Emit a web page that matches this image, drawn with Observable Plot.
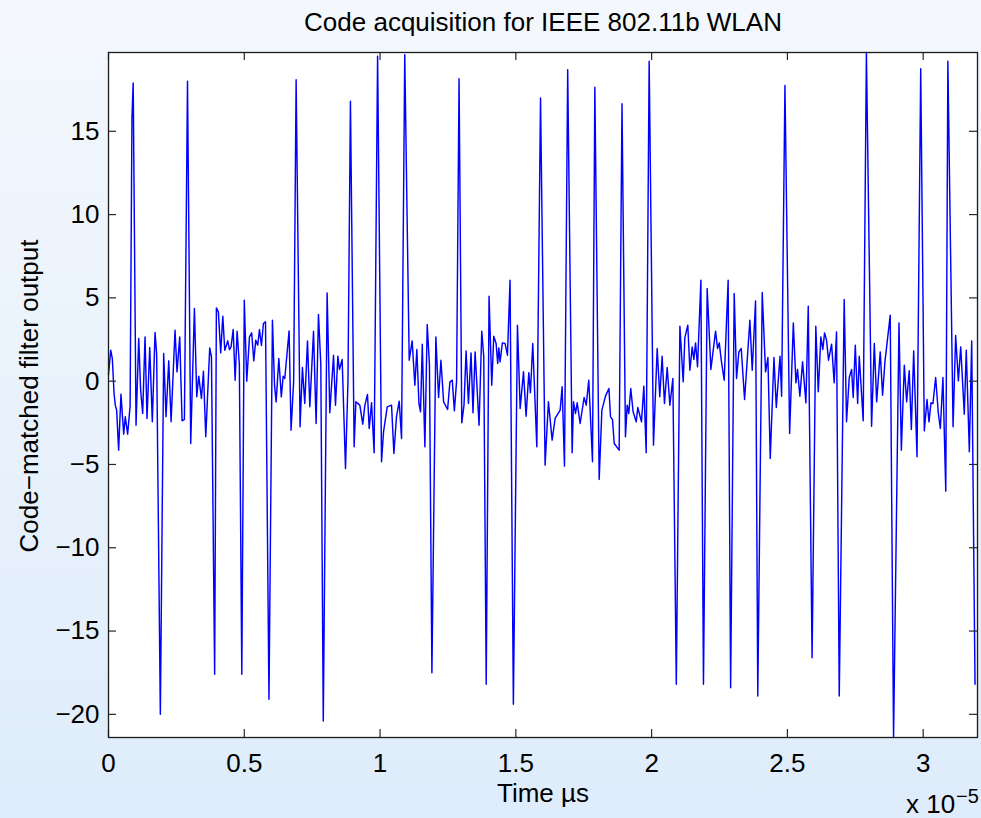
<!DOCTYPE html>
<html><head><meta charset="utf-8">
<script src="https://cdn.jsdelivr.net/npm/d3@7"></script>
<script src="https://cdn.jsdelivr.net/npm/@observablehq/plot@0.6"></script>
<style>
html,body{margin:0;padding:0;}
body{width:981px;height:818px;overflow:hidden;background:linear-gradient(to bottom,#f4f8fd 0%,#deecfb 100%);font-family:"Liberation Sans",Arial,Helvetica,sans-serif;}
#wrap{position:relative;width:981px;height:818px;}
#chart{position:absolute;left:0;top:0;}
.t{position:absolute;color:#000;white-space:nowrap;line-height:1;}
</style></head><body><div id="wrap">
<div id="chart"></div>
<div class="t" id="title" style="left:543px;top:9px;font-size:26px;transform:translateX(-50%);">Code acquisition for IEEE 802.11b WLAN</div>
<div class="t" id="xlab" style="left:543px;top:780px;font-size:26px;transform:translateX(-50%);">Time µs</div>
<div class="t" id="ylab" style="left:29px;top:396px;font-size:26px;transform:translate(-50%,-50%) rotate(-90deg);">Code−matched filter output</div>
<div class="t" id="expo" style="left:906px;top:791px;font-size:26px;">x 10</div>
<div class="t" id="expo2" style="left:956px;top:786px;font-size:20px;">−5</div>
</div>
<script>
// sampling: 22 samples per microsecond (2 per chip), index
const SAMPLES_PER_US = 22;
const halfChipIndex = [
0,1.8,3.1,4.5,5.5,6.6,8.2,10.1,12.3,13.6,15.5,17.5,19,20,22.3,24.5,26,27.7,29.6,31.2,33.4,35.5,37.7,39,42,44.7,46.6,48.8,50.7,53.9,55.5,57.7,59.6,61.5,64,66.6,69.6,71.5,73.1,75.3,76.9,78.8,82,83.4,86,87.4,89,90.9,92.6,94.2,96.6,98,99.3,101,102.6,104.2,106,108,110,112,114.2,116,117.7,119.3,120.9,122.3,123.9,125.5,127.2,130,132.8,134.5,135.8,138,140,
141.5,142.8,146.3,147.9,150,152,155.2,157.1,159,161.2,163.1,166.1,168.2,170.1,172,174,177.1,179.3,182.3,183.9,185.8,187.1,189.3,192,194,196,199,200.4,203.6,206,207.7,209.8,211.2,213.1,215.2,218,221.2,222.8,225.8,229.3,231.2,233.3,235.5,237.4,240,243.6,246,248.2,249.8,251.5,252.8,254.2,256.3,258.2,260,262,265.2,267.4,269.3,271.5,274.7,276.6,278.5,
280.2,282,284,286.2,288,289.7,291.6,293.7,295.3,297,300.2,302.4,304,306,308.3,310.5,312.1,314,315.3,316.2,317.2,319.1,321.3,323.2,325.3,328,331.3,333.5,336.2,338.3,340.5,341.8,343.7,347,350,353.7,356.4,359.4,361.8,365.9,367.5,369.4,372,375.6,376.7,378.3,379.7,382.1,385.3,387,389.1,392.1,394,397.5,399.7,402.6,405.4,406.7,408.3,409.7,413.7,416,
418.8,420.2,421.5,423.1,425,427.5,428.8,431.8,433.7,435.6,438,441.5,444.5,446.6,448.5,450.4,452.6,454.8,457.2,460,462.9,465.6,466.9,469.3,471,472.9,474.2,475.6,477.2,479.9,482,485,488,491.8,493.4,494.8,496.4,498.8,502,504,506.9,508.8,510.7,512.6,515.3,519.6,521.5,524.2,526,529.6,532.3,534.2,536.1,539.1,541,544,545.3,548,551.8,554.8,
556.9,558.2,560.1,562.3,565,566.9,570,573,575,577.1,578.7,580.1,581.7,583.3,585.8,587.9,589.8,592,596,597.9,600.1,602,603.3,605,606.9,608.2,611.4,614,618.2,620.4,622.3,625.2,627.1,629,633.3,636,640.4,642.3,644.7,646.6,648.7,650.4,652.3,655,658,660.9,663.1,664.7,666.3,667.9,670.1,672.3,673.9,676,678.3,680,684.2,686.3,688.5,690.4,693.3,694.9,697.4,699.3,702
];
const filterOutput = [
0.4,1.86,1.36,-0.74,-1.44,-1.74,-4.14,-0.78,-3.18,-2.14,-3.18,-1.5,15.8,17.9,-2.64,2.56,-0.5,-1.94,2.66,-2.24,2.02,-2.44,2.92,1.66,-20.0,1.66,-2.14,1.22,-2.44,3.06,0.56,2.66,-2.38,-2.3,18.0,-3.74,4.36,-0.94,0.3,-1.04,0.6,-3.34,2.0,1.46,-17.6,4.4,4.16,1.7,3.9,1.86,2.42,1.9,2.06,3.1,0.06,3.0,1.0,-17.6,4.86,0.0,2.66,2.9,1.22,2.46,2.16,3.1,2.14,3.46,3.56,-19.1,3.66,-0.24,-1.24,1.36,-0.94,
0.3,0.16,3.02,-2.94,0,18.1,-2.74,0.82,-1.34,2.42,-1.54,3.0,-2.54,4.0,1.0,-20.4,5.3,-1.9,1.56,-1.44,1.5,0.7,1.3,-5.24,0,16.8,-3.94,-1.24,-1.44,-2.58,-1.44,-0.8,-2.84,-1.3,-4.3,19.5,-4.84,-3.04,-1.54,-1.44,-4.34,-2.14,-1.2,-3.44,19.6,1.26,2.42,-0.24,1.9,-1.34,-1.84,2.22,-3.94,3.4,1.0,-17.5,2.66,-0.98,1.26,-1.24,-1.7,-0.04,0.06,
-1.78,0,18.15,-2.5,-1.44,1.82,-1.34,1.7,-1.9,1.76,-2.64,3.0,1.5,-18.2,5.1,-0.24,2.7,2.26,1.06,2.0,1.16,2.3,2.26,1.56,6.06,-19.4,3.36,-1.64,0.56,-2.1,0.5,-0.7,2.26,-3.94,17.0,-5.04,-1.24,-3.54,-2.24,-1.74,-0.34,-5.1,18.7,-4.3,-1.24,-1.94,-1.3,-2.54,-0.98,-1.44,0.06,-4.84,17.65,-5.9,-1.74,-0.9,-0.44,-2.14,-2.3,-3.74,-4.14,16.65,
-3.34,-1.44,-1.94,-0.44,-1.84,-2.44,-1.58,-2.44,-0.3,-4.3,19.2,-3.84,1.96,-0.94,1.5,-1.34,0.82,-1.44,0.16,-18.2,3.3,-0.04,2.6,3.36,0.66,2.06,1.3,2.3,0.86,6.06,-18.2,5.56,0.7,3.0,1.96,2.3,1.26,0.06,6.06,-18.4,5.26,0.16,1.76,1.96,-1.1,3.66,0.66,4.82,-18.9,5.32,0.56,1.42,-4.64,1.42,-1.58,1.5,-0.9,17.75,-3.14,3.5,
-0.1,0.7,-0.9,1.16,-1.3,4.5,-16.6,3.3,-0.64,2.66,1.9,2.9,2.46,1.26,2.22,-0.1,2.96,-18.9,4.9,-2.44,0.22,0.7,-0.98,2.16,-1.34,1.5,-2.38,19.73,-2.7,2.26,-1.24,1.76,-0.84,1.16,3.96,-21.39,3.5,-4.14,0.96,-1.24,0.62,-2.9,1.82,-4.54,18.75,-2.98,-1.1,-2.44,-1.3,-1.34,0.22,-1.94,-2.84,0.22,-6.6,19.2,-2.74,2.74,0.02,2.06,-1.98,1.86,-4.24,2.42,-18.2
];
const xTicksUs = [0,5,10,15,20,25,30];
const yTicks = [-20,-15,-10,-5,0,5,10,15];

const data = halfChipIndex.map((s,i)=>({t:s/SAMPLES_PER_US, v:filterOutput[i]}));
const W=981,H=818,mL=108,mR=4,mT=52,mB=81;
const innerH=H-mT-mB, innerW=W-mL-mR, TICK=8;
const chart = Plot.plot({
  width:W,height:H,marginLeft:mL,marginRight:mR,marginTop:mT,marginBottom:mB,
  style:{background:"transparent",fontFamily:"'Liberation Sans', Arial, sans-serif",fontSize:"26px",color:"#000",overflow:"visible"},
  x:{domain:[0,32]},
  y:{domain:d3.extent(filterOutput)},
  marks:[
    Plot.frame({fill:"white",stroke:null}),
    Plot.line(data,{x:"t",y:"v",stroke:"#0000ff",strokeWidth:1.45}),
    Plot.ruleX(xTicksUs,{x:d=>d,insetTop:innerH-TICK,stroke:"#262626",strokeWidth:1.2}),
    Plot.ruleX(xTicksUs,{x:d=>d,insetBottom:innerH-TICK,stroke:"#262626",strokeWidth:1.2}),
    Plot.ruleY(yTicks,{y:d=>d,insetRight:innerW-TICK,stroke:"#262626",strokeWidth:1.2}),
    Plot.ruleY(yTicks,{y:d=>d,insetLeft:innerW-TICK,stroke:"#262626",strokeWidth:1.2}),
    Plot.frame({stroke:"#1a1a1a",strokeWidth:1.3}),
    Plot.axisX(xTicksUs,{tickSize:0,tickPadding:16,tickFormat:d=>String(d/10),fontSize:26,label:null}),
    Plot.axisY(yTicks,{tickSize:0,tickPadding:9,fontSize:26,label:null})
  ]
});
document.getElementById("chart").appendChild(chart);
</script>
</body></html>
